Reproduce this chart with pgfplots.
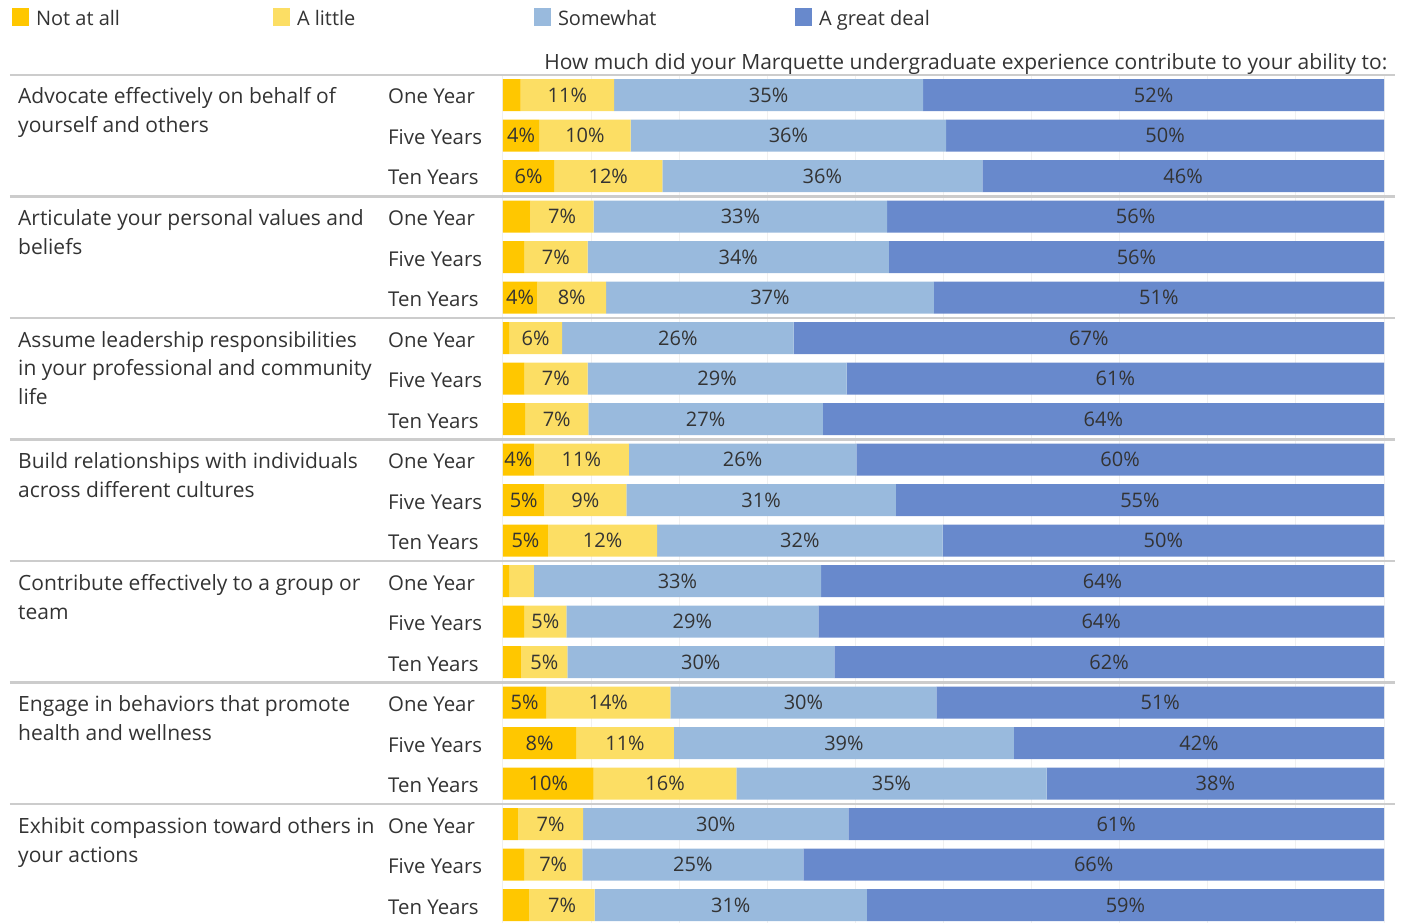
\documentclass[border=0pt]{standalone}
\usepackage{fontspec}
\setmainfont{Open Sans}
\usepackage{pgfplots}
\usepackage{pgfplotstable}
\pgfplotsset{compat=1.18}
\definecolor{cNaa}{RGB}{255,199,0}
\definecolor{cLit}{RGB}{252,222,100}
\definecolor{cSom}{RGB}{153,186,221}
\definecolor{cGre}{RGB}{104,137,204}
\definecolor{cText}{RGB}{51,51,51}
\definecolor{cSep}{RGB}{204,204,204}

% row: 0 = first bar (top); values in percent; l* = printed label (0 = not printed)
\pgfplotstableread{
row naa little some great ln ll ls lg
0  2.0 10.6 35.1 52.3 0 11 35 52
1  4.1 10.4 35.8 49.7 4 10 36 50
2  5.8 12.3 36.3 45.6 6 12 36 46
3  3.1  7.2 33.3 56.4 0 7 33 56
4  2.4  7.2 34.2 56.2 0 7 34 56
5  3.9  7.8 37.2 51.1 4 8 37 51
6  0.7  6.0 26.3 67.0 0 6 26 67
7  2.4  7.2 29.4 61.0 0 7 29 61
8  2.5  7.2 26.6 63.7 0 7 27 64
9  3.5 10.8 25.8 59.9 4 11 26 60
10 4.7  9.3 30.6 55.4 5 9 31 55
11 5.1 12.4 32.4 50.1 5 12 32 50
12 0.7  2.8 32.6 63.9 0 0 33 64
13 2.4  4.8 28.6 64.2 0 5 29 64
14 2.1  5.2 30.3 62.4 0 5 30 62
15 4.9 14.1 30.2 50.8 5 14 30 51
16 8.3 11.1 38.6 42.0 8 11 39 42
17 10.3 16.2 35.2 38.3 10 16 35 38
18 1.7  7.4 30.1 60.8 0 7 30 61
19 2.4  6.6 25.1 65.9 0 7 25 66
20 3.0  7.4 30.9 58.7 0 7 31 59
}\tbl
\pgfplotstablecreatecol[create col/expr={\thisrow{naa}/2}]{mn}\tbl
\pgfplotstablecreatecol[create col/expr={\thisrow{naa}+\thisrow{little}/2}]{ml}\tbl
\pgfplotstablecreatecol[create col/expr={\thisrow{naa}+\thisrow{little}+\thisrow{some}/2}]{ms}\tbl
\pgfplotstablecreatecol[create col/expr={\thisrow{naa}+\thisrow{little}+\thisrow{some}+\thisrow{great}/2}]{mg}\tbl

\newcommand{\lblfont}{\fontsize{20}{24}\selectfont}
\newcommand{\catfont}{\fontsize{21}{25}\selectfont}
\newcommand{\yrfont}{\fontsize{20.4}{24}\selectfont}
\tikzset{tl/.style={anchor=base west, inner sep=0pt, font=\catfont, text=cText},
         yl/.style={anchor=base west, inner sep=0pt, font=\yrfont, text=cText}}

\pgfplotsset{
  geom/.style={at={(0pt,0pt)}, anchor=south west,
    scale only axis, width=881pt, height=848pt,
    xmin=0, xmax=100, ymin=-0.494, ymax=20.444, y dir=reverse, clip=false},
  lab/.style={draw=none, mark=none, point meta=explicit,
    nodes near coords={\pgfmathprintnumber[assume math mode=true]{\pgfplotspointmeta}\%},
    every node near coord/.style={anchor=center, inner sep=0pt, font=\lblfont, text=cText},
    restrict expr to domain={\thisrow{#1}}{0.5:200}},
}

\begin{document}
\begin{tikzpicture}
\begin{axis}[
  geom,
  xbar stacked, bar width=0.79,
  axis line style={draw=none}, tick style={draw=none},
  xtick={0,10,...,100}, xticklabels={}, ytick=\empty,
  xmajorgrids, major grid style={color=black!6, line width=1pt},
  legend columns=4,
  legend style={at={(rel axis cs:-0.5573,1.0791)}, anchor=north west, draw=none, fill=none,
    inner sep=0pt, outer sep=0pt, font=\lblfont, text=cText,
    /tikz/every odd column/.append style={column sep=5pt}},
  legend image code/.code={\fill[#1,draw=none] (0pt,-7.7pt) rectangle (17pt,10.3pt);},
]
\addplot[fill=cNaa, draw=none] table[x=naa, y=row] {\tbl};
\addlegendentry{\makebox[235pt][l]{Not at all}}
\addplot[fill=cLit, draw=none] table[x=little, y=row] {\tbl};
\addlegendentry{\makebox[235pt][l]{A little}}
\addplot[fill=cSom, draw=none] table[x=some, y=row] {\tbl};
\addlegendentry{\makebox[235pt][l]{Somewhat}}
\addplot[fill=cGre, draw=none] table[x=great, y=row] {\tbl};
\addlegendentry{A great deal}

% frame lines
\draw[cSep, line width=1.5pt] (axis cs:-55.96,-0.494) -- (axis cs:101.25,-0.494);
\draw[cSep, line width=2.5pt] (axis cs:-55.96,2.5) -- (axis cs:101.25,2.5);
\draw[cSep, line width=2.5pt] (axis cs:-55.96,5.5) -- (axis cs:101.25,5.5);
\draw[cSep, line width=2.5pt] (axis cs:-55.96,8.5) -- (axis cs:101.25,8.5);
\draw[cSep, line width=2.5pt] (axis cs:-55.96,11.5) -- (axis cs:101.25,11.5);
\draw[cSep, line width=2.5pt] (axis cs:-55.96,14.5) -- (axis cs:101.25,14.5);
\draw[cSep, line width=2.5pt] (axis cs:-55.96,17.5) -- (axis cs:101.25,17.5);

% title
\node[tl, anchor=base east] at (axis cs:100.4,-0.642) {How much did your Marquette undergraduate experience contribute to your ability to:};

% year labels
\node[yl] at (axis cs:-13.05,0.222) {One Year};
\node[yl] at (axis cs:-13.05,1.222) {Five Years};
\node[yl] at (axis cs:-13.05,2.222) {Ten Years};
\node[yl] at (axis cs:-13.05,3.222) {One Year};
\node[yl] at (axis cs:-13.05,4.222) {Five Years};
\node[yl] at (axis cs:-13.05,5.222) {Ten Years};
\node[yl] at (axis cs:-13.05,6.222) {One Year};
\node[yl] at (axis cs:-13.05,7.222) {Five Years};
\node[yl] at (axis cs:-13.05,8.222) {Ten Years};
\node[yl] at (axis cs:-13.05,9.222) {One Year};
\node[yl] at (axis cs:-13.05,10.222) {Five Years};
\node[yl] at (axis cs:-13.05,11.222) {Ten Years};
\node[yl] at (axis cs:-13.05,12.222) {One Year};
\node[yl] at (axis cs:-13.05,13.222) {Five Years};
\node[yl] at (axis cs:-13.05,14.222) {Ten Years};
\node[yl] at (axis cs:-13.05,15.222) {One Year};
\node[yl] at (axis cs:-13.05,16.222) {Five Years};
\node[yl] at (axis cs:-13.05,17.222) {Ten Years};
\node[yl] at (axis cs:-13.05,18.222) {One Year};
\node[yl] at (axis cs:-13.05,19.222) {Five Years};
\node[yl] at (axis cs:-13.05,20.222) {Ten Years};
% category labels
\node[tl] at (axis cs:-55.05,0.222) {Advocate effectively on behalf of};
\node[tl] at (axis cs:-55.05,0.938) {yourself and others};
\node[tl] at (axis cs:-55.05,3.222) {Articulate your personal values and};
\node[tl] at (axis cs:-55.05,3.938) {beliefs};
\node[tl] at (axis cs:-55.05,6.222) {Assume leadership responsibilities};
\node[tl] at (axis cs:-55.05,6.928) {in your professional and community};
\node[tl] at (axis cs:-55.05,7.634) {life};
\node[tl] at (axis cs:-55.05,9.222) {Build relationships with individuals};
\node[tl] at (axis cs:-55.05,9.938) {across different cultures};
\node[tl] at (axis cs:-55.05,12.222) {Contribute effectively to a group or};
\node[tl] at (axis cs:-55.05,12.938) {team};
\node[tl] at (axis cs:-55.05,15.222) {Engage in behaviors that promote};
\node[tl] at (axis cs:-55.05,15.938) {health and wellness};
\node[tl] at (axis cs:-55.05,18.222) {Exhibit compassion toward others in};
\node[tl] at (axis cs:-55.05,18.938) {your actions};
\end{axis}
% overlay axis with the value labels centred on each segment
\begin{axis}[geom, hide axis]
\addplot[lab=ln] table[x=mn, y=row, meta=ln] {\tbl};
\addplot[lab=ll] table[x=ml, y=row, meta=ll] {\tbl};
\addplot[lab=ls] table[x=ms, y=row, meta=ls] {\tbl};
\addplot[lab=lg] table[x=mg, y=row, meta=lg] {\tbl};
\end{axis}
\pgfresetboundingbox
\path[use as bounding box] (-503pt,0pt) rectangle (900pt,923pt);
\end{tikzpicture}
\end{document}
